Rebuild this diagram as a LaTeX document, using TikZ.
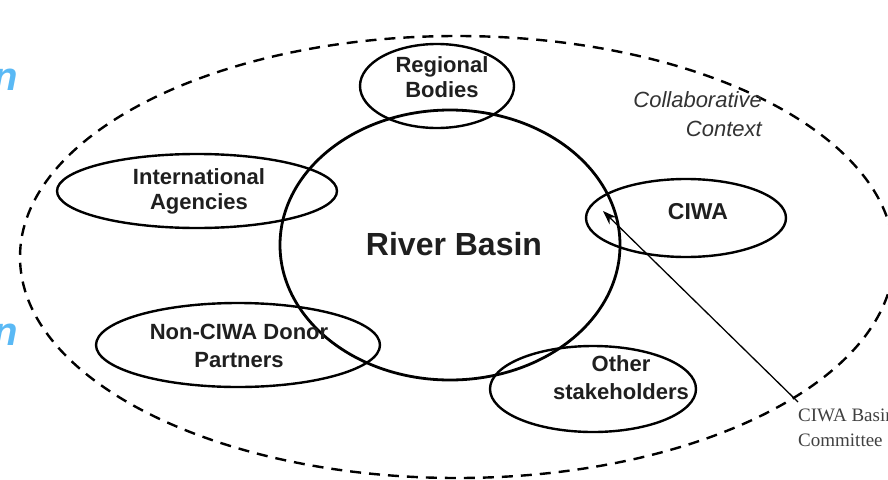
\documentclass[tikz,border=0pt]{standalone}
\usepackage{fontspec}
\setmainfont{Liberation Sans}
\newfontfamily\timesf{Liberation Serif}
\usetikzlibrary{arrows.meta}
\begin{document}
\begin{tikzpicture}[x=1pt,y=-1pt,
  lab/.style={font=\fontsize{22}{25}\selectfont\bfseries,align=center,text=black!88,inner sep=0pt},
  bluetxt/.style={font=\fontsize{40}{44}\selectfont\bfseries\itshape,text={rgb,255:red,90;green,185;blue,245},inner sep=0pt}]
\useasboundingbox (0,0) rectangle (888,479);
\clip (0,0) rectangle (888,479);
\fill[white] (0,0) rectangle (888,479);
% outer dashed context
\draw[line width=2.4pt,dash pattern=on 11pt off 8pt] (457,257) ellipse [x radius=437,y radius=221];
% river basin
\draw[line width=2.8pt] (450,245) ellipse [x radius=170,y radius=135];
% satellites
\draw[line width=2.4pt] (437,86) ellipse [x radius=77,y radius=42];
\draw[line width=2.4pt] (197,191) ellipse [x radius=140,y radius=37];
\draw[line width=2.4pt] (686,218) ellipse [x radius=100,y radius=39];
\draw[line width=2.4pt] (238,345) ellipse [x radius=142,y radius=42];
\draw[line width=2.4pt] (593,389) ellipse [x radius=103,y radius=43];
% labels
\node[lab] (rb) at (442,77) {Regional\\Bodies};
\node[lab] (ia) at (199,191) {International\\Agencies};
\node[lab,font=\fontsize{23}{26}\selectfont\bfseries] (ciwa) at (698,212) {CIWA};
\node[lab,font=\fontsize{22}{28}\selectfont\bfseries] (nc) at (239,346) {Non-CIWA Donor\\Partners};
\node[lab,font=\fontsize{22}{28}\selectfont\bfseries] (os) at (621,378) {Other\\stakeholders};
\node[font=\fontsize{32}{36}\selectfont\bfseries,text=black!88,inner sep=0pt] (basin) at (454,244) {River Basin};
\node[font=\fontsize{22}{29}\selectfont\itshape,align=right,text=black!80,anchor=north east,inner sep=0pt] (cc) at (762,91) {Collaborative\\Context};
% CIWA basin committee
\node[font=\timesf\fontsize{19}{25}\selectfont,align=left,anchor=north west,text=black!75,inner sep=0pt] (cbc) at (798,409) {CIWA Basin\\Committee};
\coordinate (tail) at (798,402);
\coordinate (tip) at (603,211);
\draw[line width=1.3pt,-{Stealth[length=14pt,width=10pt]}] (tail) -- (tip);
% cropped blue text at left edge
\node[bluetxt,anchor=base east] (b1) at (18,90) {n};
\node[bluetxt,anchor=base east] (b2) at (18,345) {n};
\end{tikzpicture}
\end{document}
